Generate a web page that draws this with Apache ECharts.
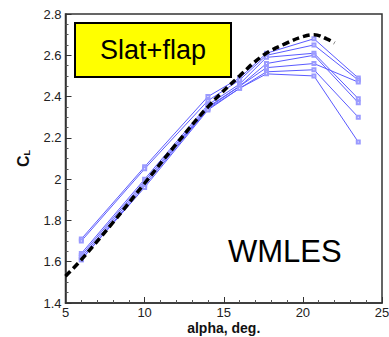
<!DOCTYPE html>
<html>
<head>
<meta charset="utf-8">
<script src="https://cdn.jsdelivr.net/npm/echarts@6/dist/echarts.min.js"></script>
<style>html,body{margin:0;padding:0;background:#fff}#c{width:389px;height:337px}</style>
</head>
<body>
<div id="c"></div>
<script>
// Angle of attack samples for the WMLES runs
const alpha = [6, 10, 14, 16, 17.7, 20.7, 23.5];
// WMLES CL curves (one array per run)
const run1 = [1.71, 2.06, 2.40, 2.49, 2.61, 2.68, 2.49];
const run2 = [1.70, 2.05, 2.38, 2.48, 2.60, 2.65, 2.48];
const run3 = [1.64, 2.00, 2.36, 2.46, 2.59, 2.61, 2.39];
const run4 = [1.63, 1.99, 2.35, 2.45, 2.56, 2.60, 2.37];
const run5 = [1.62, 1.98, 2.345, 2.45, 2.54, 2.56, 2.47];
const run6 = [1.61, 1.97, 2.34, 2.44, 2.52, 2.53, 2.30];
const run7 = [1.61, 1.96, 2.335, 2.44, 2.51, 2.50, 2.18];
const runs = [run1, run2, run3, run4, run5, run6, run7];
// Experiment (dashed black)
const expAlpha = [5, 6, 8, 10, 12, 14, 16, 17.5, 19, 20, 20.7, 21.5, 22];
const expCL = [1.53, 1.61, 1.79, 1.98, 2.17, 2.35, 2.50, 2.60, 2.66, 2.69, 2.70, 2.68, 2.66];

const chart = echarts.init(document.getElementById('c'), null, {renderer: 'svg'});
const fmt = v => String(Math.round(v * 10) / 10);
const series = runs.map(r => ({
  type: 'line',
  data: alpha.map((a, i) => [a, r[i]]),
  symbol: 'emptyRect',
  symbolSize: 3,
  lineStyle: {color: '#5a5aff', width: 1},
  itemStyle: {color: '#9a9aff', borderColor: '#9a9aff', borderWidth: 1},
  z: 2
}));
series.push({
  type: 'line',
  data: expAlpha.map((a, i) => [a, expCL[i]]),
  symbol: 'none',
  smooth: 0.4,
  lineStyle: {color: '#000', width: 3.5, type: [7, 4]},
  z: 3
});

chart.setOption({
  animation: false,
  grid: {left: 65.5, right: 7, top: 14, bottom: 34, outerBoundsMode: 'none', containLabel: false, show: true, borderColor: '#333', borderWidth: 1.5, backgroundColor: 'transparent'},
  xAxis: {
    type: 'value', min: 5, max: 25, interval: 5,
    name: 'alpha, deg.', nameLocation: 'middle', nameGap: 17.5, nameMoveOverlap: false,
    nameTextStyle: {fontFamily: 'Liberation Sans', fontWeight: 'bold', fontSize: 14, lineHeight: 14, color: '#111'},
    axisLine: {lineStyle: {color: '#333', width: 1.5}},
    axisTick: {inside: true, length: 6, lineStyle: {color: '#333'}},
    minorTick: {show: true, splitNumber: 5, length: 3, lineStyle: {color: '#555'}},
    splitLine: {show: false},
    axisLabel: {fontFamily: 'Liberation Sans', fontSize: 13, lineHeight: 13, color: '#222', margin: 3, formatter: fmt}
  },
  yAxis: {
    type: 'value', min: 1.4, max: 2.8, interval: 0.2,
    name: 'C{s|L}', nameLocation: 'middle', nameGap: 34, nameRotate: 90, nameMoveOverlap: false,
    nameTextStyle: {fontFamily: 'Liberation Sans', fontWeight: 'bold', fontSize: 16, color: '#111',
      rich: {s: {fontFamily: 'Liberation Sans', fontWeight: 'bold', fontSize: 9, color: '#111', verticalAlign: 'bottom', padding: [7, 0, 0, 0]}}},
    axisLine: {lineStyle: {color: '#333', width: 1.5}},
    axisTick: {inside: true, length: 6, lineStyle: {color: '#333'}},
    minorTick: {show: true, splitNumber: 4, length: 3, lineStyle: {color: '#555'}},
    splitLine: {show: false},
    axisLabel: {fontFamily: 'Liberation Sans', fontSize: 13, color: '#222', margin: 4, formatter: fmt}
  },
  series: series,
  graphic: [
    {type: 'rect', shape: {x: 75, y: 23, width: 156, height: 54}, style: {fill: '#ffff00', stroke: '#000', lineWidth: 2}, z: 10},
    {type: 'text', x: 153, y: 50, style: {text: 'Slat+flap', fontFamily: 'Liberation Sans', fontSize: 27, fill: '#000', align: 'center', verticalAlign: 'middle'}, z: 11},
    {type: 'text', x: 228, y: 251, style: {text: 'WMLES', fontFamily: 'Liberation Sans', fontSize: 31, fill: '#000', align: 'left', verticalAlign: 'middle'}, z: 11}
  ]
});
</script>
</body>
</html>
